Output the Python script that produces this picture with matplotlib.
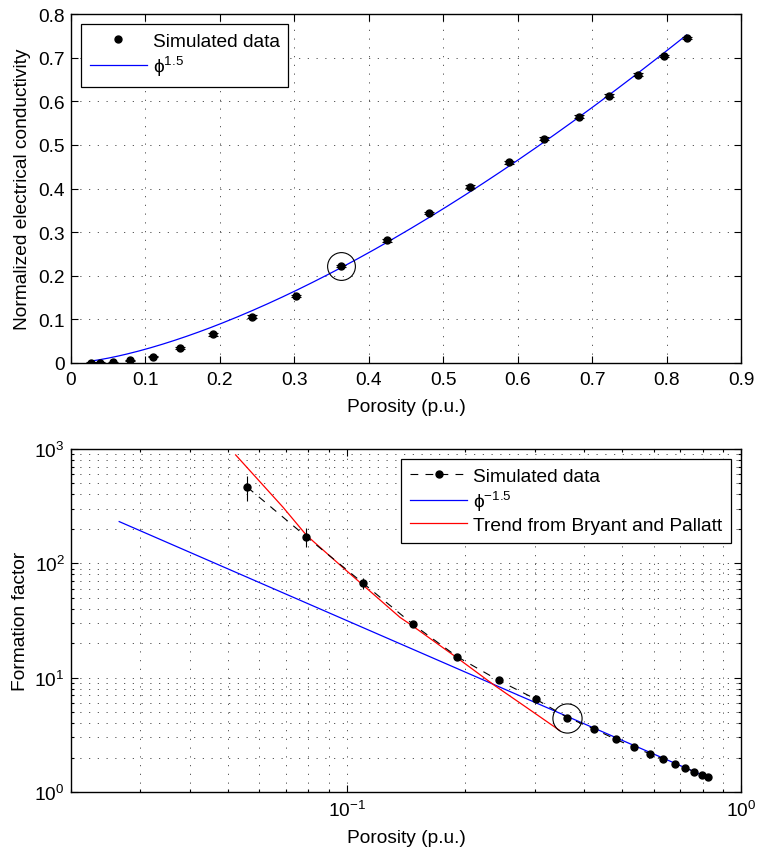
import numpy as np
import matplotlib
matplotlib.use("Agg")
import matplotlib.pyplot as plt
from matplotlib.lines import Line2D

plt.rcParams['font.family'] = ['Liberation Sans', 'DejaVu Sans']
plt.rcParams['mathtext.fontset'] = 'custom'
plt.rcParams['mathtext.rm'] = 'Liberation Sans'
plt.rcParams['mathtext.it'] = 'Liberation Sans:italic'
plt.rcParams['mathtext.bf'] = 'Liberation Sans:bold'
plt.rcParams['font.size'] = 13.8

# porosity of the simulated samples
porosity = [0.0265, 0.039, 0.056, 0.079, 0.110, 0.147, 0.191, 0.243, 0.302, 0.363,
            0.424, 0.481, 0.536, 0.589, 0.636, 0.682, 0.723, 0.761, 0.796, 0.827]
# normalized conductivity and its spread
conductivity = [0.0004, 0.0008, 0.0021, 0.0058, 0.0148, 0.034, 0.066, 0.106, 0.154, 0.222,
                0.281, 0.344, 0.404, 0.460, 0.514, 0.565, 0.613, 0.661, 0.704, 0.745]
cond_err = [0.001, 0.001, 0.001, 0.002, 0.002, 0.002, 0.003, 0.003, 0.003, 0.003,
            0.003, 0.003, 0.003, 0.003, 0.003, 0.003, 0.003, 0.003, 0.003, 0.003]

# formation factor (only the samples that stay below 1e3)
ff_porosity = [0.056, 0.079, 0.110, 0.147, 0.191, 0.243, 0.302, 0.363,
               0.424, 0.481, 0.536, 0.589, 0.636, 0.682, 0.723, 0.761, 0.796, 0.827]
formation = [463, 171, 67.2, 29.4, 15.2, 9.45, 6.48, 4.48,
             3.56, 2.89, 2.46, 2.15, 1.93, 1.76, 1.62, 1.51, 1.41, 1.34]
formation_err = [115, 33, 7, 1.5, 0.6, 0.3, 0.2, 0.1,
                 0.08, 0.05, 0.04, 0.03, 0.03, 0.02, 0.02, 0.02, 0.02, 0.02]

# Bryant and Pallatt trend, sampled
bp_porosity = [0.0523, 0.069, 0.0792, 0.1, 0.1365, 0.146, 0.1917, 0.238, 0.286, 0.347]
bp_formation = [888, 309, 175, 86, 33.7, 28.8, 14.7, 8.48, 5.48, 3.45]

# power-law reference curves
phi = np.linspace(porosity[0], porosity[-1], 200)
exponent = 1.5

highlight = 9  # sample circled in both panels

fig = plt.figure(figsize=(7.58, 8.54), dpi=100)
W, H = 758, 854
ax1 = fig.add_axes([71 / W, 1 - 364 / H, 670 / W, 349 / H])
ax2 = fig.add_axes([71 / W, 1 - 793 / H, 670 / W, 343 / H])

grid_kw = dict(color='0.25', linewidth=0.6, linestyle=(0, (1.5, 9)))
dash = (0, (7, 6.5))
leg_kw = dict(borderaxespad=0, fancybox=False, edgecolor='k', framealpha=1,
              handlelength=3.0, handletextpad=0.3, fontsize=13.8,
              borderpad=0.45, labelspacing=0.2)

# ---- top: conductivity vs porosity ----
ax1.errorbar(porosity, conductivity, yerr=cond_err, fmt='o', color='k', ms=5,
             capsize=3.5, elinewidth=0.8, capthick=0.8, zorder=3)
ax1.plot(phi, phi ** exponent, color='b', lw=0.9, zorder=2)
ax1.plot(porosity[highlight], conductivity[highlight], 'o', mfc='none', mec='k',
         ms=20, mew=0.8, zorder=4)

ax1.set_xlim(0, 0.9)
ax1.set_ylim(0, 0.8)
xt = np.round(np.arange(0, 0.91, 0.1), 1)
yt = np.round(np.arange(0, 0.81, 0.1), 1)
ax1.set_xticks(xt)
ax1.set_xticklabels(['0'] + ['%g' % v for v in xt[1:]])
ax1.set_yticks(yt)
ax1.set_yticklabels(['0'] + ['%g' % v for v in yt[1:]])
ax1.grid(True, **grid_kw)
ax1.set_xlabel('Porosity (p.u.)', labelpad=7)
ax1.set_ylabel('Normalized electrical conductivity', labelpad=5)

h1 = [Line2D([], [], color='k', marker='o', ms=5, ls='none'),
      Line2D([], [], color='b', lw=0.9)]
leg1 = ax1.legend(h1, ['Simulated data', r'$\mathrm{\phi}^{1.5}$'], loc='upper left',
                  bbox_to_anchor=(0.0149, 0.971), **leg_kw)
leg1.get_frame().set_linewidth(0.9)

# ---- bottom: formation factor vs porosity ----
ax2.errorbar(ff_porosity, formation, yerr=formation_err, fmt='o', color='k', ms=5,
             linestyle=dash, lw=0.8, elinewidth=0.8, capsize=0, zorder=3)
ax2.plot(phi, phi ** -exponent, color='b', lw=0.9, zorder=2)
ax2.plot(bp_porosity, bp_formation, color='r', lw=0.9, zorder=2)
ax2.plot(ff_porosity[7], formation[7], 'o', mfc='none', mec='k', ms=21, mew=0.8, zorder=4)

ax2.set_xscale('log')
ax2.set_yscale('log')
ax2.set_xlim(0.02, 1)
ax2.set_ylim(1, 1000)
ax2.grid(True, which='both', **grid_kw)
ax2.set_xlabel('Porosity (p.u.)', labelpad=6.5)
ax2.set_ylabel('Formation factor', labelpad=4)

h2 = [Line2D([], [], color='k', marker='o', ms=5, ls=dash, lw=0.8),
      Line2D([], [], color='b', lw=0.9),
      Line2D([], [], color='r', lw=0.9)]
leg2 = ax2.legend(h2, ['Simulated data', r'$\mathrm{\phi}^{-1.5}$',
                       'Trend from Bryant and Pallatt'],
                  loc='upper right', bbox_to_anchor=(0.985, 0.971), **leg_kw)
leg2.get_frame().set_linewidth(0.9)

for ax in (ax1, ax2):
    ax.tick_params(which='both', direction='in', top=True, right=True, width=0.8)
    ax.tick_params(which='major', length=5, labelsize=13.8)
    ax.tick_params(which='minor', length=2.5)
    ax.tick_params(axis='x', which='both', pad=6)
    ax.tick_params(axis='y', which='both', pad=4.5)
    for s in ax.spines.values():
        s.set_linewidth(1.0)
    ax.set_axisbelow(True)

fig.savefig('out.png', dpi=100)
